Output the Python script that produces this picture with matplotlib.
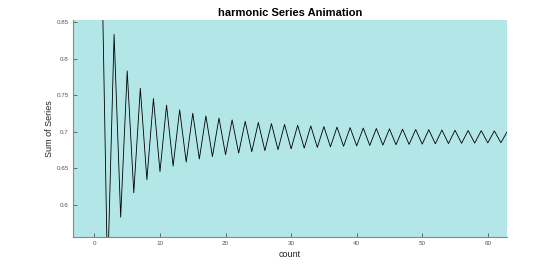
import matplotlib
matplotlib.use("Agg")
import matplotlib.pyplot as plt

plt.rcParams["font.family"] = ["Liberation Sans", "DejaVu Sans"]

count = list(range(1, 65))
partial_sums = [
    1.0000, 0.5000, 0.8333, 0.5833, 0.7833, 0.6167, 0.7595, 0.6345, 0.7456, 0.6456,
    0.7365, 0.6532, 0.7301, 0.6587, 0.7254, 0.6629, 0.7217, 0.6661, 0.7188, 0.6688,
    0.7164, 0.6709, 0.7144, 0.6728, 0.7128, 0.6743, 0.7113, 0.6756, 0.7101, 0.6768,
    0.7090, 0.6778, 0.7081, 0.6787, 0.7072, 0.6795, 0.7065, 0.6802, 0.7058, 0.6808,
    0.7052, 0.6814, 0.7046, 0.6819, 0.7041, 0.6824, 0.7037, 0.6828, 0.7032, 0.6832,
    0.7029, 0.6836, 0.7025, 0.6840, 0.7022, 0.6843, 0.7018, 0.6846, 0.7016, 0.6849,
    0.7013, 0.6851, 0.7010, 0.6854,
]
xticks = [0, 10, 20, 30, 40, 50, 60]
yticks = [0.6, 0.65, 0.7, 0.75, 0.8, 0.85]
ytick_labels = ["0.6", "0.65", "0.7", "0.75", "0.8", "0.85"]

fig = plt.figure(figsize=(5.6, 2.67), dpi=100)
ax = fig.add_axes([0.130, 0.112, 0.775, 0.813])
ax.set_facecolor("#b3e6e6")
ax.plot(count, partial_sums, color="black", linewidth=0.6)
ax.set_xlim(-3.3, 62.9)
ax.set_ylim(0.556, 0.853)
ax.set_xticks(xticks)
ax.set_xticklabels([str(t) for t in xticks])
ax.set_yticks(yticks)
ax.set_yticklabels(ytick_labels)
ax.tick_params(direction="in", length=3, width=0.6, colors="#555555", labelsize=4.5, pad=3)
for s in ["top", "right"]:
    ax.spines[s].set_visible(False)
for s in ["left", "bottom"]:
    ax.spines[s].set_color("#888888")
    ax.spines[s].set_linewidth(0.8)
ax.set_title("harmonic Series Animation", fontsize=8, fontweight="bold", pad=3)
ax.set_xlabel("count", fontsize=6.5, labelpad=3, color="#222222")
ax.set_ylabel("Sum of Series", fontsize=6.5, labelpad=2, color="#222222")
fig.savefig("out.png", dpi=100)
